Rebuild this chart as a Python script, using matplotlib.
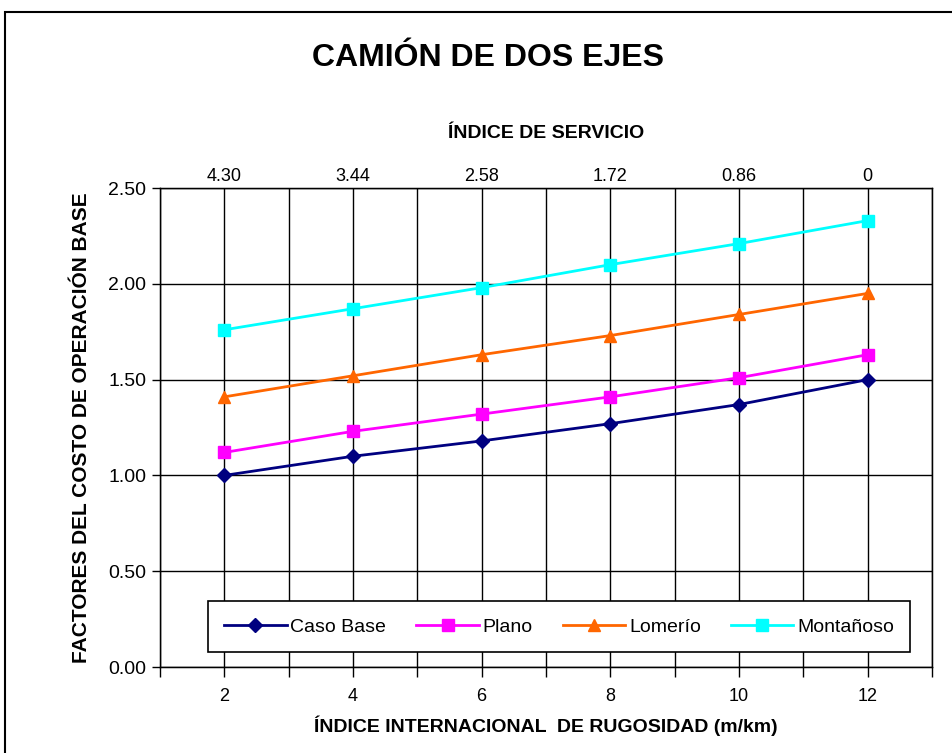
import matplotlib.pyplot as plt
from matplotlib.patches import Rectangle

# Data
iri = [2, 4, 6, 8, 10, 12]
servicio = ['4.30', '3.44', '2.58', '1.72', '0.86', '0']
caso_base = [1.00, 1.10, 1.18, 1.27, 1.37, 1.50]
plano = [1.12, 1.23, 1.32, 1.41, 1.51, 1.63]
lomerio = [1.41, 1.52, 1.63, 1.73, 1.84, 1.95]
montanoso = [1.76, 1.87, 1.98, 2.10, 2.21, 2.33]
y_ticks = [0.0, 0.5, 1.0, 1.5, 2.0, 2.5]

font = ['Liberation Sans', 'DejaVu Sans']

fig = plt.figure(figsize=(9.52, 7.53), dpi=100)
ax = fig.add_axes([0.168, 0.1142, 0.811, 0.6361])

# outer frame of the chart
fig.patches.append(Rectangle((5 / 952, -0.01), 1.0, 1 - 12 / 753 + 0.01,
                             transform=fig.transFigure, fill=False,
                             edgecolor='black', linewidth=1.5))

ax.plot(iri, caso_base, color='#000080', marker='D', markersize=7, linewidth=2, label='Caso Base')
ax.plot(iri, plano, color='#FF00FF', marker='s', markersize=8, linewidth=2, label='Plano')
ax.plot(iri, lomerio, color='#FF6600', marker='^', markersize=9, linewidth=2, label='Lomerío')
ax.plot(iri, montanoso, color='#00FFFF', marker='s', markersize=9, linewidth=2, label='Montañoso')

ax.set_xlim(1, 13)
ax.set_ylim(0, 2.5)
ax.set_xticks(range(1, 14))
ax.set_xticklabels(['' if i % 2 else str(i) for i in range(1, 14)], fontfamily=font, fontsize=13)
ax.set_yticks(y_ticks)
ax.set_yticklabels(['%.2f' % v for v in y_ticks], fontfamily=font, fontsize=14)
ax.tick_params(axis='x', direction='out', length=7, width=1, pad=8)
ax.tick_params(axis='y', direction='out', length=6, width=1, pad=4)
ax.grid(True, color='black', linewidth=1)
ax.set_axisbelow(True)
for s in ax.spines.values():
    s.set_linewidth(1)

# secondary (top) axis: indice de servicio
top = ax.twiny()
top.set_xlim(ax.get_xlim())
top.set_xticks(iri)
top.set_xticklabels(servicio, fontfamily=font, fontsize=13)
top.tick_params(axis='x', length=0, pad=2)
top.set_xlabel('ÍNDICE DE SERVICIO', fontfamily=font, fontsize=14, fontweight='bold', labelpad=22)

ax.set_xlabel('ÍNDICE INTERNACIONAL  DE RUGOSIDAD (m/km)', fontfamily=font, fontsize=14,
              fontweight='bold', labelpad=8)
ax.set_ylabel('FACTORES DEL COSTO DE OPERACIÓN BASE', fontfamily=font, fontsize=15,
              fontweight='bold', labelpad=12)

fig.text(0.513, 0.923, 'CAMIÓN DE DOS EJES', ha='center', va='center',
         fontfamily=font, fontsize=23, fontweight='bold')

leg = ax.legend(loc='lower left', bbox_to_anchor=(0.062, 0.031, 0.91, 0.098), mode='expand',
                ncol=4, frameon=True, fancybox=False, edgecolor='black', framealpha=1,
                prop={'family': font, 'size': 14}, handlelength=3.2, handletextpad=0.2,
                columnspacing=1.0, borderaxespad=0, borderpad=0.85)
leg.get_frame().set_linewidth(1.2)

fig.savefig('out.png', dpi=100)
